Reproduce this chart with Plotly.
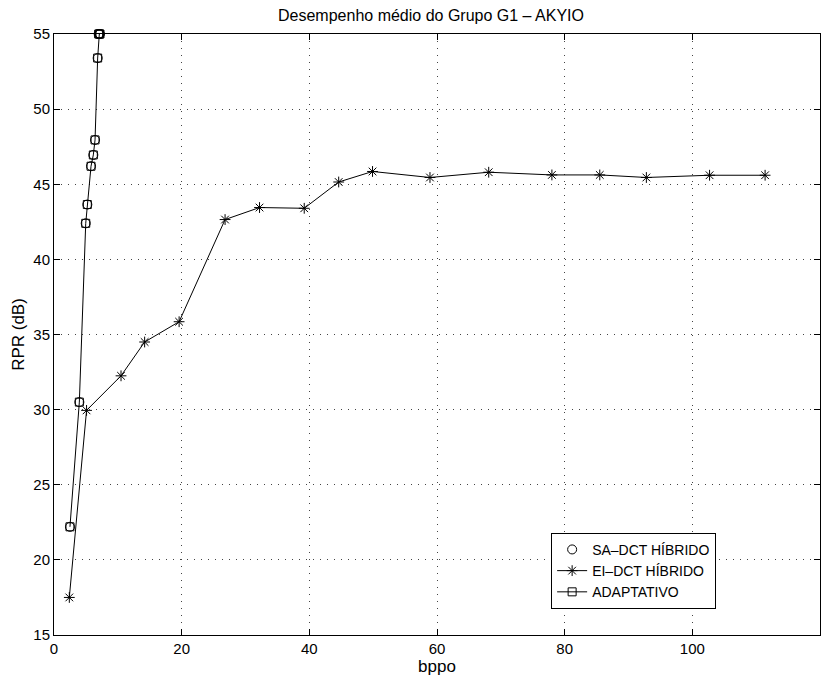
import plotly.graph_objects as go

# SA-DCT HÍBRIDO / ADAPTATIVO (same operating points)
sa_x = [2.5, 3.97, 4.97, 5.22, 5.8, 6.16, 6.43, 6.84, 7.0, 7.1, 7.2]
sa_y = [22.2, 30.5, 42.4, 43.65, 46.2, 46.95, 47.95, 53.4, 55.0, 55.0, 55.0]

ad_x = [2.5, 3.97, 4.97, 5.22, 5.8, 6.16, 6.43, 6.84, 7.0, 7.1, 7.2]
ad_y = [22.2, 30.5, 42.4, 43.65, 46.2, 46.95, 47.95, 53.4, 55.0, 55.0, 55.0]

# EI-DCT HÍBRIDO
ei_x = [2.4, 5.1, 10.5, 14.2, 19.6, 26.8, 32.2, 39.2, 44.6, 49.9, 58.9, 68.1,
        78.0, 85.5, 92.8, 102.7, 111.4]
ei_y = [17.5, 29.95, 32.25, 34.5, 35.85, 42.65, 43.45, 43.4, 45.15, 45.85, 45.45, 45.8,
        45.62, 45.62, 45.45, 45.6, 45.6]

title_text = "Desempenho médio do Grupo G1 – AKYIO"
x_title = "bppo"
y_title = "RPR (dB)"
x_ticks = [0, 20, 40, 60, 80, 100, 120]
y_ticks = [15, 20, 25, 30, 35, 40, 45, 50, 55]

FONT = "Liberation Sans, Arial, Helvetica, sans-serif"

fig = go.Figure()
fig.add_trace(go.Scatter(
    x=sa_x, y=sa_y, mode="markers", name="SA–DCT HÍBRIDO",
    marker=dict(symbol="circle-open", size=9, color="black", line=dict(width=1, color="black")),
    cliponaxis=False,
))
fig.add_trace(go.Scatter(
    x=ei_x, y=ei_y, mode="lines+markers", name="EI–DCT HÍBRIDO",
    line=dict(color="black", width=1),
    marker=dict(symbol="asterisk-open", size=9, color="black", line=dict(width=1, color="black")),
))
fig.add_trace(go.Scatter(
    x=ad_x, y=ad_y, mode="lines+markers", name="ADAPTATIVO",
    line=dict(color="black", width=1),
    marker=dict(symbol="square-open", size=8, color="black", line=dict(width=1, color="black")),
    cliponaxis=False,
))

axis_common = dict(
    showline=True, linecolor="black", linewidth=1, mirror="ticks",
    ticks="inside", ticklen=6, tickcolor="black", tickwidth=1,
    showgrid=True, gridcolor="#444444", gridwidth=1, griddash="1px,6px",
    zeroline=False, automargin=False,
    tickfont=dict(family=FONT, size=15, color="black"),
)

fig.update_layout(
    width=831, height=682,
    paper_bgcolor="white", plot_bgcolor="white",
    margin=dict(l=54, r=11, t=34, b=47),
    title=dict(text=title_text, x=431 / 831, xanchor="center", y=1 - 15.5 / 682, yanchor="middle",
               font=dict(family=FONT, size=16, color="black")),
    xaxis=dict(range=[0, 120], tickvals=x_ticks,
               title=dict(text=x_title, font=dict(family=FONT, size=17, color="black"), standoff=2),
               **axis_common),
    yaxis=dict(range=[15, 55], tickvals=y_ticks,
               title=dict(text=y_title, font=dict(family=FONT, size=17, color="black"), standoff=4),
               **axis_common),
    legend=dict(x=0.649, y=0.17, xanchor="left", yanchor="top",
                bordercolor="black", borderwidth=1, bgcolor="white",
                font=dict(family=FONT, size=14, color="black"),
                itemwidth=30, tracegroupgap=0),
    showlegend=True,
)

fig.write_html("out.html", config={"displayModeBar": False},
               post_script="document.body.style.margin='0';")
